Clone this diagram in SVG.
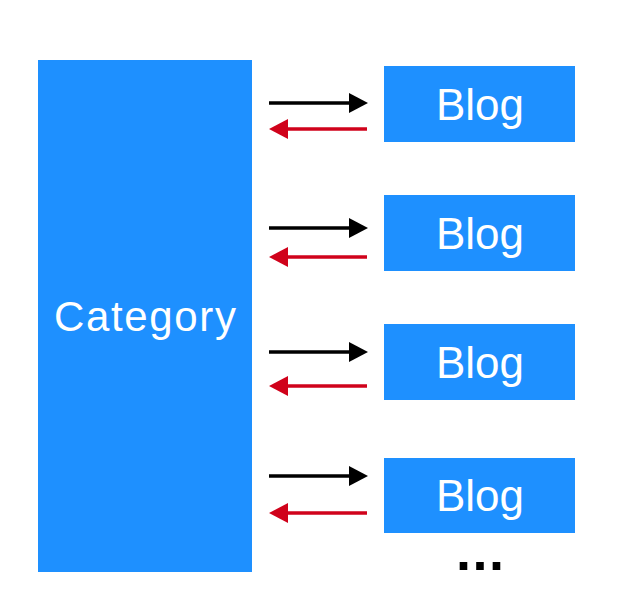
<svg xmlns="http://www.w3.org/2000/svg" width="626" height="596" viewBox="0 0 626 596">
  <style>
    .box { fill: #1e90ff; }
    .lbl { fill: #ffffff; font-family: "Liberation Sans", Arial, sans-serif; text-anchor: middle; }
    .blog { font-size: 44px; }
    .cat { font-size: 42px; }
    .fwd { stroke: #000000; stroke-width: 3.5; fill: none; }
    .back { stroke: #d0021b; stroke-width: 3.5; fill: none; }
    .more { fill: #000000; font-family: "Liberation Sans", Arial, sans-serif; font-weight: bold; font-size: 54px; letter-spacing: 1.5px; }
  </style>
  <defs>
    <marker id="headBlack" markerUnits="userSpaceOnUse" markerWidth="20" markerHeight="20" refX="0" refY="10" orient="auto">
      <path d="M0,0 L19,10 L0,20 z" fill="#000000"/>
    </marker>
    <marker id="headRed" markerUnits="userSpaceOnUse" markerWidth="20" markerHeight="20" refX="0" refY="10" orient="auto">
      <path d="M0,0 L19,10 L0,20 z" fill="#d0021b"/>
    </marker>
  </defs>
  <rect width="626" height="596" fill="#ffffff"/>

  <g id="category">
    <rect class="box" x="38" y="60" width="214" height="512"/>
    <text class="lbl cat" x="145" y="331" textLength="182" lengthAdjust="spacing">Category</text>
  </g>

  <g id="blog1">
    <rect class="box" x="384" y="66" width="191" height="76"/>
    <text class="lbl blog" x="480" y="120">Blog</text>
  </g>
  <g id="blog2">
    <rect class="box" x="384" y="195" width="191" height="76"/>
    <text class="lbl blog" x="480" y="249">Blog</text>
  </g>
  <g id="blog3">
    <rect class="box" x="384" y="324" width="191" height="76"/>
    <text class="lbl blog" x="480" y="378">Blog</text>
  </g>
  <g id="blog4">
    <rect class="box" x="384" y="458" width="191" height="75"/>
    <text class="lbl blog" x="480" y="511">Blog</text>
  </g>

  <g id="connectors">
    <line class="fwd" x1="269" y1="103" x2="349" y2="103" marker-end="url(#headBlack)"/>
    <line class="back" x1="367" y1="129" x2="288" y2="129" marker-end="url(#headRed)"/>
    <line class="fwd" x1="269" y1="228" x2="349" y2="228" marker-end="url(#headBlack)"/>
    <line class="back" x1="367" y1="257" x2="288" y2="257" marker-end="url(#headRed)"/>
    <line class="fwd" x1="269" y1="352" x2="349" y2="352" marker-end="url(#headBlack)"/>
    <line class="back" x1="367" y1="386" x2="288" y2="386" marker-end="url(#headRed)"/>
    <line class="fwd" x1="269" y1="476" x2="349" y2="476" marker-end="url(#headBlack)"/>
    <line class="back" x1="367" y1="513" x2="288" y2="513" marker-end="url(#headRed)"/>
  </g>

  <g id="more">
    <text class="more" x="456" y="570">...</text>
  </g>
</svg>
